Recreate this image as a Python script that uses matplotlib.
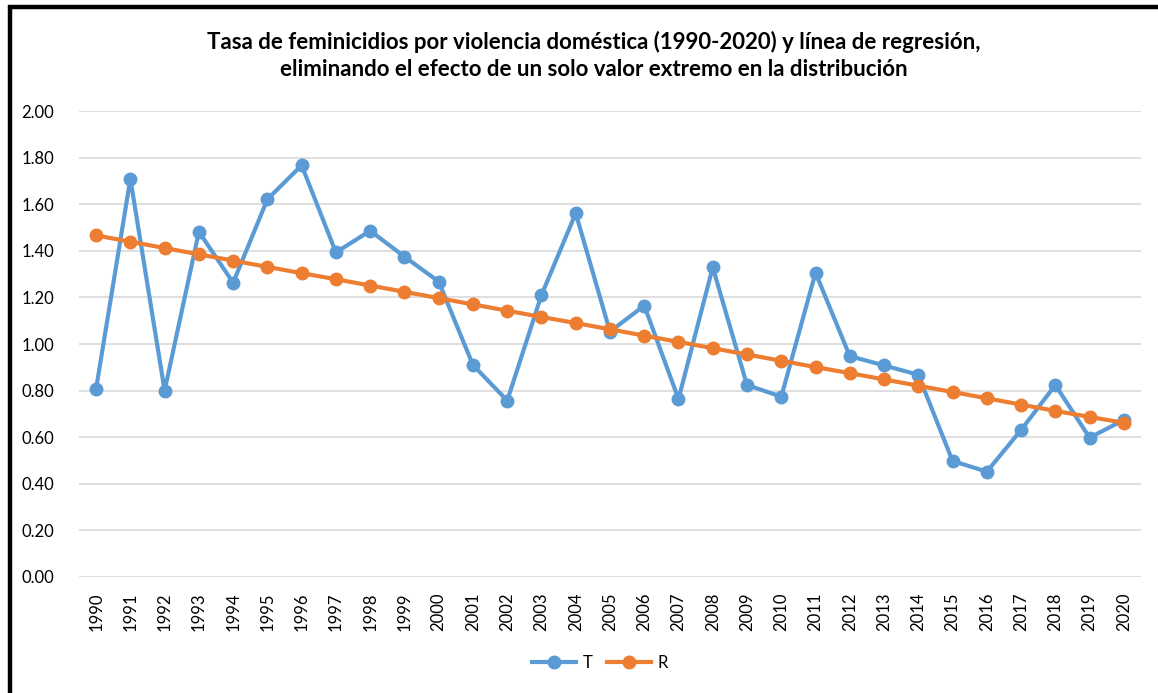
import matplotlib
matplotlib.use("Agg")
import matplotlib.pyplot as plt
from matplotlib.patches import Rectangle

years = [str(y) for y in range(1990, 2021)]

tasa = [
    0.808, 1.709, 0.800, 1.482, 1.263, 1.621, 1.767, 1.393, 1.486, 1.375,
    1.268, 0.910, 0.757, 1.210, 1.561, 1.053, 1.165, 0.764, 1.329, 0.824,
    0.774, 1.306, 0.948, 0.908, 0.868, 0.498, 0.452, 0.631, 0.824, 0.598,
    0.674,
]

regresion = [
    1.466, 1.439, 1.412, 1.385, 1.358, 1.331, 1.304, 1.278, 1.251, 1.224,
    1.197, 1.170, 1.143, 1.116, 1.090, 1.063, 1.036, 1.009, 0.982, 0.955,
    0.928, 0.901, 0.875, 0.848, 0.821, 0.794, 0.767, 0.740, 0.713, 0.687,
    0.662,
]

y_ticks = [0.0, 0.2, 0.4, 0.6, 0.8, 1.0, 1.2, 1.4, 1.6, 1.8, 2.0]

title = ("Tasa de feminicidios por violencia doméstica (1990-2020) y línea de regresión,\n"
         "eliminando el efecto de un solo valor extremo en la distribución")

BLUE = "#5B9BD5"
ORANGE = "#ED7D31"

plt.rcParams["font.family"] = ["Lato", "DejaVu Sans"]

fig = plt.figure(figsize=(11.58, 6.93), dpi=100)
ax = fig.add_axes([0.0682, 0.1674, 0.9171, 0.6724])

x = list(range(len(years)))
ax.plot(x, tasa, color=BLUE, lw=3.0, marker="o", ms=9, label="T", zorder=3)
ax.plot(x, regresion, color=ORANGE, lw=3.0, marker="o", ms=9, label="R", zorder=4)

ax.set_xlim(-0.5, len(years) - 0.5)
ax.set_ylim(0, 2.0)
ax.set_yticks(y_ticks)
ax.set_yticklabels([f"{v:.2f}" for v in y_ticks])
ax.set_xticks(x)
ax.set_xticklabels(years, rotation=90)
ax.tick_params(axis="both", length=0, labelsize=12, colors="#000000")
ax.tick_params(axis="y", pad=18)
ax.tick_params(axis="x", pad=11)

ax.grid(True, axis="y", color="#D9D9D9", lw=1.2)
ax.set_axisbelow(True)
for s in ax.spines.values():
    s.set_visible(False)

fig.text(0.5125, 0.92, title, ha="center", va="center", fontsize=16,
         fontweight="bold", linespacing=1.35)

ax.legend(loc="center", bbox_to_anchor=(0.4906, (1 - 663 / 693 - 0.1674) / 0.6724),
          ncol=2, frameon=False, fontsize=12, handlelength=2.6,
          columnspacing=0.9, handletextpad=0.4)

# marco negro del gráfico (sólo visibles los bordes izquierdo y superior)
fig.patches.append(Rectangle((10 / 1158, -0.1), 1.2, 1.1 - 6.5 / 693,
                             transform=fig.transFigure, fill=False,
                             edgecolor="black", lw=3.2, zorder=10))

fig.savefig("out.png", dpi=100)
